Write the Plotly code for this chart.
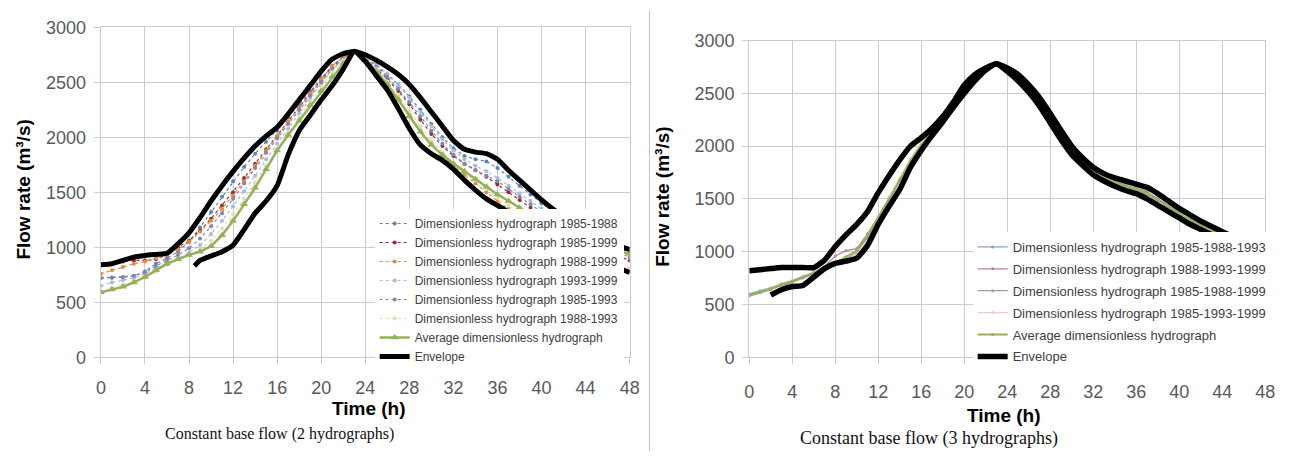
import plotly.graph_objects as go

# ---------------- data: left chart (2 hydrographs) ----------------
hours = list(range(0, 49))

h_1985_1988 = [720, 722, 728, 740, 780, 850, 900, 960, 1050, 1180, 1320, 1460, 1600, 1730, 1850, 1960, 2060,
               2180, 2300, 2420, 2540, 2650, 2730, 2780, 2720, 2650, 2570, 2480, 2370, 2250, 2120, 2000, 1900,
               1830, 1800, 1780, 1720, 1640, 1560, 1480, 1400, 1330, 1260, 1200, 1140, 1090, 1040, 1000, 960]
h_1985_1999 = [840, 850, 870, 880, 880, 890, 930, 1000, 1060, 1150, 1260, 1380, 1500, 1630, 1760, 1890, 2010,
               2140, 2270, 2400, 2520, 2640, 2720, 2780, 2710, 2620, 2530, 2420, 2300, 2160, 2030, 1920, 1830,
               1760, 1700, 1640, 1570, 1500, 1430, 1360, 1290, 1230, 1170, 1110, 1060, 1010, 960, 920, 880]
h_1988_1999 = [760, 790, 820, 850, 870, 900, 930, 980, 1050, 1140, 1240, 1350, 1470, 1600, 1740, 1880, 2010,
               2140, 2270, 2400, 2530, 2650, 2730, 2780, 2700, 2600, 2480, 2350, 2200, 2060, 1940, 1830, 1740,
               1660, 1580, 1500, 1420, 1350, 1280, 1220, 1160, 1100, 1050, 1000, 950, 900, 860, 820, 780]
h_1993_1999 = [650, 680, 700, 720, 760, 810, 860, 900, 950, 1020, 1120, 1240, 1370, 1510, 1650, 1800, 1940,
               2080, 2220, 2360, 2490, 2610, 2710, 2780, 2730, 2660, 2580, 2480, 2360, 2230, 2100, 1980, 1880,
               1800, 1740, 1690, 1630, 1560, 1490, 1420, 1350, 1290, 1230, 1170, 1120, 1070, 1020, 980, 940]
h_1985_1993 = [720, 725, 730, 740, 770, 830, 880, 930, 990, 1080, 1190, 1310, 1440, 1580, 1720, 1860, 1990,
               2120, 2250, 2380, 2500, 2620, 2710, 2780, 2720, 2640, 2550, 2440, 2320, 2190, 2060, 1940, 1840,
               1760, 1700, 1650, 1600, 1530, 1460, 1390, 1320, 1260, 1200, 1140, 1090, 1040, 990, 950, 910]
h_1988_1993 = [600, 630, 660, 690, 720, 780, 840, 890, 930, 980, 1060, 1170, 1300, 1440, 1590, 1740, 1890,
               2040, 2180, 2320, 2460, 2590, 2700, 2780, 2710, 2620, 2510, 2380, 2240, 2100, 1970, 1860, 1770,
               1690, 1610, 1530, 1450, 1380, 1310, 1250, 1190, 1130, 1080, 1030, 980, 930, 890, 850, 810]
avg_left = [590, 615, 640, 680, 730, 790, 850, 890, 930, 960, 1010, 1110, 1240, 1390, 1540, 1710, 1880,
            2020, 2150, 2290, 2420, 2550, 2670, 2780, 2700, 2600, 2480, 2340, 2190, 2050, 1930, 1840, 1760,
            1690, 1620, 1550, 1480, 1420, 1360, 1300, 1250, 1200, 1150, 1100, 1060, 1020, 990, 960, 940]
env_up_left = [840, 850, 880, 910, 925, 935, 945, 1030, 1130, 1270, 1420, 1560, 1690, 1810, 1920, 2010, 2090,
               2210, 2340, 2470, 2600, 2710, 2760, 2780, 2750, 2700, 2640, 2570, 2480, 2360, 2230, 2100, 1970,
               1890, 1865, 1850, 1800, 1700, 1610, 1520, 1430, 1350, 1280, 1220, 1160, 1110, 1060, 1010, 980]
env_low_left_t = [8.5] + list(range(9, 49))
env_low_left = [830, 880, 920, 960, 1020, 1160, 1310, 1420, 1560, 1840, 2060, 2200, 2340, 2470, 2620, 2780,
                2690, 2560, 2430, 2260, 2080, 1930, 1850, 1790, 1710, 1610, 1520, 1440, 1380, 1320, 1260,
                1200, 1150, 1100, 1050, 1000, 950, 900, 850, 810, 770]

# ---------------- data: right chart (3 hydrographs) ----------------
h_1985_1988_1993 = [600, 630, 660, 690, 720, 760, 810, 860, 900, 950, 1000, 1130, 1300, 1490, 1680, 1870, 2030,
                    2160, 2290, 2420, 2550, 2660, 2740, 2780, 2730, 2660, 2560, 2440, 2290, 2130, 1980, 1860,
                    1780, 1710, 1670, 1630, 1600, 1560, 1500, 1440, 1370, 1310, 1260, 1210, 1160, 1110, 1060,
                    1020, 970]
h_1988_1993_1999 = [590, 620, 650, 690, 720, 760, 800, 860, 960, 1010, 1030, 1170, 1330, 1500, 1670, 1840, 1990,
                    2120, 2250, 2390, 2520, 2640, 2730, 2780, 2720, 2640, 2540, 2410, 2260, 2100, 1950, 1850,
                    1780, 1720, 1680, 1650, 1620, 1570, 1500, 1430, 1360, 1300, 1250, 1200, 1150, 1100, 1050,
                    1010, 960]
h_1985_1988_1999 = [580, 610, 640, 680, 710, 750, 790, 840, 890, 930, 990, 1140, 1310, 1490, 1670, 1850, 2000,
                    2130, 2260, 2390, 2520, 2640, 2730, 2780, 2710, 2620, 2520, 2400, 2250, 2090, 1940, 1830,
                    1750, 1690, 1650, 1610, 1580, 1540, 1480, 1420, 1350, 1290, 1240, 1190, 1140, 1090, 1040,
                    1000, 950]
h_1985_1993_1999 = [590, 620, 660, 700, 730, 770, 810, 850, 880, 940, 1000, 1150, 1330, 1520, 1700, 1880, 2030,
                    2150, 2280, 2410, 2540, 2660, 2740, 2780, 2720, 2650, 2550, 2430, 2280, 2120, 1970, 1860,
                    1770, 1700, 1660, 1620, 1590, 1550, 1490, 1430, 1360, 1300, 1250, 1200, 1150, 1100, 1050,
                    1010, 960]
avg_right = [590, 620, 650, 690, 720, 760, 800, 850, 890, 950, 1010, 1150, 1320, 1500, 1680, 1860, 2010,
             2140, 2270, 2400, 2530, 2650, 2730, 2780, 2720, 2640, 2540, 2420, 2270, 2110, 1960, 1850,
             1770, 1700, 1660, 1620, 1590, 1550, 1490, 1430, 1360, 1300, 1250, 1200, 1150, 1100, 1050,
             1010, 960]
env_up_right = [820, 830, 840, 850, 850, 850, 850, 920, 1050, 1160, 1260, 1380, 1560, 1720, 1870, 2000, 2080,
                2170, 2280, 2420, 2580, 2680, 2740, 2780, 2740, 2680, 2580, 2460, 2310, 2150, 2000, 1890,
                1800, 1740, 1700, 1670, 1640, 1610, 1550, 1480, 1410, 1350, 1290, 1240, 1190, 1140, 1090,
                1040, 1000]
env_low_right_t = list(range(2, 49))
env_low_right = [590, 640, 670, 680, 760, 840, 890, 910, 940, 1060, 1260, 1430, 1590, 1800, 1960, 2100, 2230,
                 2370, 2500, 2620, 2720, 2780, 2710, 2620, 2510, 2380, 2220, 2060, 1920, 1820, 1730, 1670,
                 1620, 1580, 1550, 1500, 1440, 1380, 1320, 1260, 1210, 1160, 1110, 1060, 1010, 970, 930]

x_ticks = list(range(0, 49, 4))
y_ticks = list(range(0, 3001, 500))

left_names = ["Dimensionless hydrograph 1985-1988", "Dimensionless hydrograph 1985-1999",
              "Dimensionless hydrograph 1988-1999", "Dimensionless hydrograph 1993-1999",
              "Dimensionless hydrograph 1985-1993", "Dimensionless hydrograph 1988-1993"]
left_series = [h_1985_1988, h_1985_1999, h_1988_1999, h_1993_1999, h_1985_1993, h_1988_1993]
left_colors = ["#5B83B8", "#8E3533", "#E8893F", "#A9BCD6", "#8A84A8", "#E3DDB5"]

right_names = ["Dimensionless hydrograph 1985-1988-1993", "Dimensionless hydrograph 1988-1993-1999",
               "Dimensionless hydrograph 1985-1988-1999", "Dimensionless hydrograph 1985-1993-1999"]
right_series = [h_1985_1988_1993, h_1988_1993_1999, h_1985_1988_1999, h_1985_1993_1999]
right_colors = ["#7FA3C6", "#B88585", "#A497B8", "#E5CFC8"]

GREEN = "#93B158"
GRID = "#CCCCCC"
W, H = 1296, 461

fig = go.Figure()

# left chart traces
for i, (nm, ys, c) in enumerate(zip(left_names, left_series, left_colors)):
    fig.add_trace(go.Scatter(x=hours, y=ys, name=nm, mode="lines+markers",
                             line=dict(color=c, width=1.2, dash="dot"),
                             marker=dict(color=c, size=4),
                             xaxis="x", yaxis="y", legend="legend", legendgroup="L%d" % i))
fig.add_trace(go.Scatter(x=hours, y=avg_left, name="Average dimensionless hydrograph", mode="lines+markers",
                         line=dict(color=GREEN, width=2.5),
                         marker=dict(color=GREEN, size=7, symbol="triangle-up"),
                         xaxis="x", yaxis="y", legend="legend", legendgroup="L6"))
fig.add_trace(go.Scatter(x=hours, y=env_up_left, name="Envelope", mode="lines",
                         line=dict(color="black", width=5, shape="spline", smoothing=0.5),
                         xaxis="x", yaxis="y", legend="legend", legendgroup="L7"))
fig.add_trace(go.Scatter(x=env_low_left_t, y=env_low_left, name="Envelope", mode="lines",
                         line=dict(color="black", width=5, shape="spline", smoothing=0.5),
                         xaxis="x", yaxis="y", showlegend=False, legendgroup="L7"))

# right chart traces
for i, (nm, ys, c) in enumerate(zip(right_names, right_series, right_colors)):
    fig.add_trace(go.Scatter(x=hours, y=ys, name=nm, mode="lines+markers",
                             line=dict(color=c, width=1.3),
                             marker=dict(color=c, size=3),
                             xaxis="x2", yaxis="y2", legend="legend2", legendgroup="R%d" % i))
fig.add_trace(go.Scatter(x=hours, y=avg_right, name="Average dimensionless hydrograph", mode="lines+markers",
                         line=dict(color=GREEN, width=2),
                         marker=dict(color=GREEN, size=3),
                         xaxis="x2", yaxis="y2", legend="legend2", legendgroup="R4"))
fig.add_trace(go.Scatter(x=hours, y=env_up_right, name="Envelope", mode="lines",
                         line=dict(color="black", width=5.5, shape="spline", smoothing=0.5),
                         xaxis="x2", yaxis="y2", legend="legend2", legendgroup="R5"))
fig.add_trace(go.Scatter(x=env_low_right_t, y=env_low_right, name="Envelope", mode="lines",
                         line=dict(color="black", width=5.5, shape="spline", smoothing=0.5),
                         xaxis="x2", yaxis="y2", showlegend=False, legendgroup="R5"))

tickfont = dict(family="Liberation Sans, Arial", size=18, color="#595959")
axis_common = dict(showgrid=True, gridcolor=GRID, gridwidth=1.3, zeroline=False,
                   showline=True, linecolor=GRID, linewidth=1.3, mirror=True,
                   ticks="outside", ticklen=6, tickcolor=GRID, tickwidth=1.3,
                   tickfont=tickfont)

def px_x(p):
    return p / W

def px_y(p):
    return (H - p) / H

fig.update_layout(
    width=W, height=H,
    margin=dict(l=0, r=0, t=0, b=0),
    paper_bgcolor="white", plot_bgcolor="white",
    font=dict(family="Liberation Sans, Arial"),
    xaxis=dict(domain=[px_x(97), px_x(632)], range=[0, 48], tickvals=x_ticks,
               ticklabelstandoff=8, anchor="y", **axis_common),
    yaxis=dict(domain=[px_y(363), px_y(18)], range=[0, 3000], tickvals=y_ticks,
               ticklabelstandoff=4, anchor="x", **axis_common),
    xaxis2=dict(domain=[px_x(753), px_x(1275)], range=[0, 48], tickvals=x_ticks,
                ticklabelstandoff=12, anchor="y2", **axis_common),
    yaxis2=dict(domain=[px_y(363), px_y(32)], range=[0, 3000], tickvals=y_ticks,
                ticklabelstandoff=4, anchor="x2", **axis_common),
    legend=dict(x=px_x(374), y=px_y(208), xanchor="left", yanchor="top",
                bgcolor="white", borderwidth=0, tracegroupgap=0, traceorder="grouped",
                font=dict(family="Liberation Sans, Arial", size=12, color="#404040")),
    legend2=dict(x=px_x(979), y=px_y(232), xanchor="left", yanchor="top",
                 bgcolor="white", borderwidth=0, tracegroupgap=2, traceorder="grouped",
                 font=dict(family="Liberation Sans, Arial", size=13, color="#404040")),
    shapes=[dict(type="line", xref="paper", yref="paper", x0=px_x(652), x1=px_x(652), y0=0, y1=1,
                 line=dict(color="#C4C4C4", width=1))],
    annotations=[
        dict(text="<b>Flow rate (m³/s)</b>", xref="paper", yref="paper", x=px_x(19), y=px_y(188),
             textangle=-90, showarrow=False, font=dict(size=19, color="black"),
             xanchor="center", yanchor="middle"),
        dict(text="<b>Flow rate (m³/s)</b>", xref="paper", yref="paper", x=px_x(665), y=px_y(195),
             textangle=-90, showarrow=False, font=dict(size=19, color="black"),
             xanchor="center", yanchor="middle"),
        dict(text="<b>Time (h)</b>", xref="paper", yref="paper", x=px_x(368), y=px_y(417),
             showarrow=False, font=dict(size=19, color="black"), xanchor="center", yanchor="middle"),
        dict(text="<b>Time (h)</b>", xref="paper", yref="paper", x=px_x(1011), y=px_y(424),
             showarrow=False, font=dict(size=19, color="black"), xanchor="center", yanchor="middle"),
        dict(text="Constant base flow (2 hydrographs)", xref="paper", yref="paper", x=px_x(278), y=px_y(443),
             showarrow=False, font=dict(family="Liberation Serif, Times New Roman", size=16, color="#111111"),
             xanchor="center", yanchor="middle"),
        dict(text="Constant base flow (3 hydrographs)", xref="paper", yref="paper", x=px_x(935), y=px_y(448),
             showarrow=False, font=dict(family="Liberation Serif, Times New Roman", size=18, color="#111111"),
             xanchor="center", yanchor="middle"),
    ],
)

fig.write_html("out.html")
